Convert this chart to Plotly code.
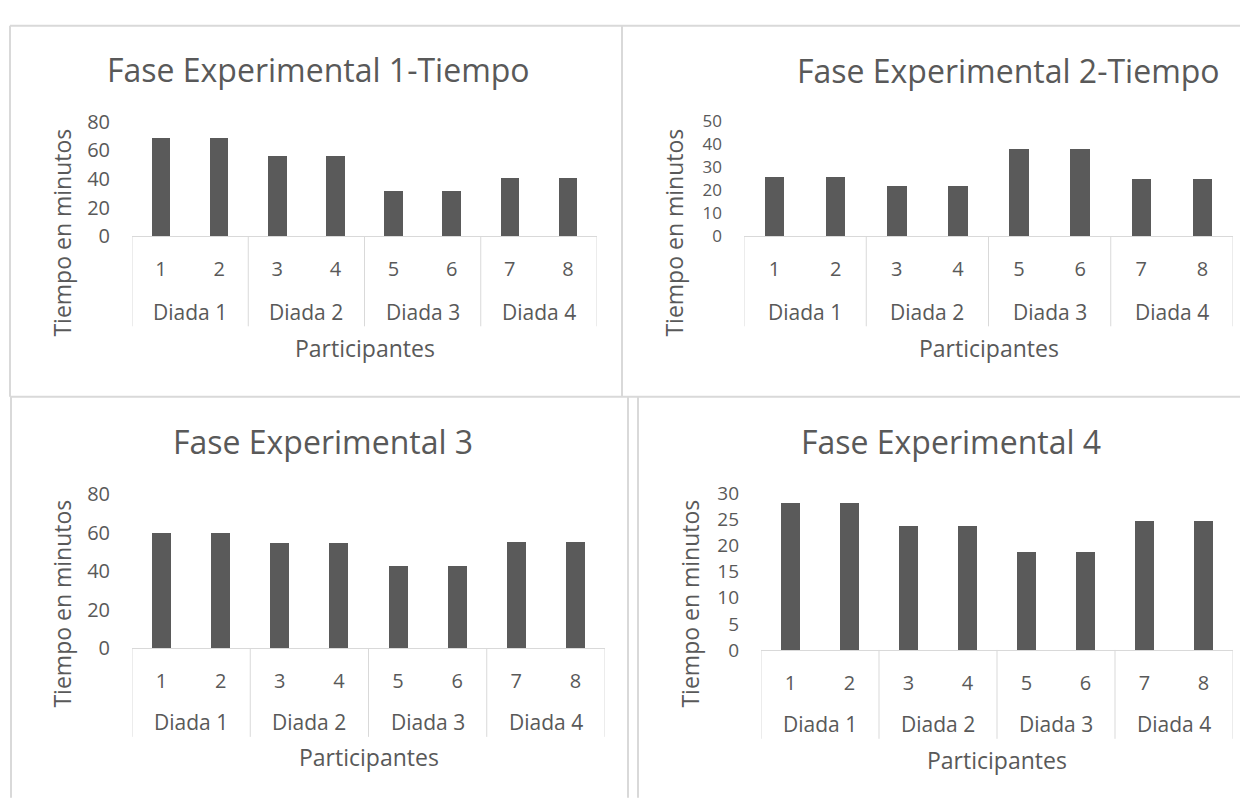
import plotly.graph_objects as go

# page size (browser window) and figure size (page minus 8px default body margin)
PAGE_W, PAGE_H = 1248, 811
OFF = 8
W, H = PAGE_W - 2 * OFF, PAGE_H - 2 * OFF

participants = ["1", "2", "3", "4", "5", "6", "7", "8"]
dyads = ["Diada 1", "Diada 2", "Diada 3", "Diada 4"]

titles = ["Fase Experimental 1-Tiempo", "Fase Experimental 2-Tiempo",
          "Fase Experimental 3", "Fase Experimental 4"]

fase1 = [69, 69, 56.5, 56.5, 32, 32, 41, 41]
fase2 = [26, 26, 22, 22, 38.2, 38.2, 25.1, 25.1]
fase3 = [59.6, 59.6, 54.6, 54.6, 42.6, 42.6, 55, 55]
fase4 = [28.1, 28.1, 23.7, 23.7, 18.7, 18.7, 24.6, 24.6]

y_max = [80, 50, 80, 30]
y_step = [20, 10, 20, 5]
y_font = [20, 17, 20, 19]

series = [fase1, fase2, fase3, fase4]

# layout geometry in page pixels (left, right, top(ymax), bottom(0))
geo = [
    dict(l=132, r=597, t=111, b=230, title_x=318, title_y=57, ytitle_x=62, ytitle_y=226,
         grp_y=308, div_b=323, xt_y=345),
    dict(l=744, r=1233, t=111, b=230, title_x=1008, title_y=58, ytitle_x=674, ytitle_y=226,
         grp_y=308, div_b=323, xt_y=345),
    dict(l=132, r=605, t=497, b=656, title_x=323, title_y=442, ytitle_x=62, ytitle_y=610,
         grp_y=733, div_b=748, xt_y=769),
    dict(l=761, r=1233, t=496, b=658, title_x=951, title_y=442, ytitle_x=690, ytitle_y=610,
         grp_y=735, div_b=750, xt_y=772),
]

FONT = "Open Sans"
TXT = "#595959"
LINE = "#d9d9d9"
BAR = "#5a5a5a"


def px(x):
    return (x - OFF) / W


def py(y):
    return 1 - (y - OFF) / H


fig = go.Figure()
annotations = []
shapes = []

for i, (vals, g) in enumerate(zip(series, geo)):
    n = i + 1
    xa = "x" if n == 1 else f"x{n}"
    ya = "y" if n == 1 else f"y{n}"
    fig.add_trace(go.Bar(
        x=list(range(len(participants))), y=vals, xaxis=xa, yaxis=ya,
        marker=dict(color=BAR, line=dict(width=0)), width=0.32,
        showlegend=False, hoverinfo="skip"))
    xkey = "xaxis" if n == 1 else f"xaxis{n}"
    ykey = "yaxis" if n == 1 else f"yaxis{n}"
    fig.update_layout(**{
        xkey: dict(domain=[px(g["l"]), px(g["r"])], anchor=ya,
                   range=[-0.5, len(participants) - 0.5],
                   tickmode="array", tickvals=list(range(len(participants))),
                   ticktext=participants, showgrid=False, zeroline=False,
                   showline=True, linecolor=LINE, linewidth=1, ticks="",
                   ticklabelstandoff=15,
                   tickfont=dict(family=FONT, size=20, color=TXT), fixedrange=True),
        ykey: dict(domain=[py(g["b"]), py(g["t"])], anchor=xa,
                   range=[0, y_max[i]], dtick=y_step[i], tick0=0,
                   showgrid=False, zeroline=False, showline=False, ticks="",
                   ticklabelstandoff=21,
                   tickfont=dict(family=FONT, size=y_font[i], color=TXT), fixedrange=True),
    })
    # chart title
    annotations.append(dict(text=titles[i], x=px(g["title_x"]), y=py(g["title_y"]),
                            xref="paper", yref="paper", showarrow=False,
                            xanchor="center", yanchor="middle",
                            font=dict(family=FONT, size=32, color=TXT)))
    # y title
    annotations.append(dict(text="Tiempo en minutos", x=px(g["ytitle_x"]), y=py(g["ytitle_y"]),
                            xref="paper", yref="paper", showarrow=False, textangle=-90,
                            xanchor="center", yanchor="middle",
                            font=dict(family=FONT, size=23, color=TXT)))
    # x title
    annotations.append(dict(text="Participantes", x=px((g["l"] + g["r"]) / 2), y=py(g["xt_y"]),
                            xref="paper", yref="paper", showarrow=False,
                            xanchor="center", yanchor="middle",
                            font=dict(family=FONT, size=23, color=TXT)))
    # group labels
    for k, d in enumerate(dyads):
        annotations.append(dict(text=d, x=2 * k + 0.5, y=py(g["grp_y"]),
                                xref=xa, yref="paper", showarrow=False,
                                xanchor="center", yanchor="middle",
                                font=dict(family=FONT, size=21, color=TXT)))
    # group dividers
    for k in range(len(dyads) + 1):
        xv = 2 * k - 0.5
        shapes.append(dict(type="line", xref=xa, yref="paper", x0=xv, x1=xv,
                           y0=py(g["b"]), y1=py(g["div_b"]),
                           line=dict(color=LINE, width=1)))

# panel frames
frame = [
    (10, 12, 1244, 12),
    (10, 12, 10, 396),
    (622, 12, 622, 396),
    (10, 396, 1248, 396),
    (11, 396, 11, 811),
    (628, 396, 628, 811),
    (638, 396, 638, 811),
]
for x0, y0, x1, y1 in frame:
    shapes.append(dict(type="line", xref="paper", yref="paper",
                       x0=px(x0), y0=py(y0), x1=px(x1), y1=py(y1),
                       line=dict(color=LINE, width=2)))

fig.update_layout(width=W, height=H, margin=dict(l=0, r=0, t=0, b=0),
                  paper_bgcolor="white", plot_bgcolor="white",
                  annotations=annotations, shapes=shapes, bargap=0,
                  font=dict(family=FONT, color=TXT))

fig.write_html("out.html")
